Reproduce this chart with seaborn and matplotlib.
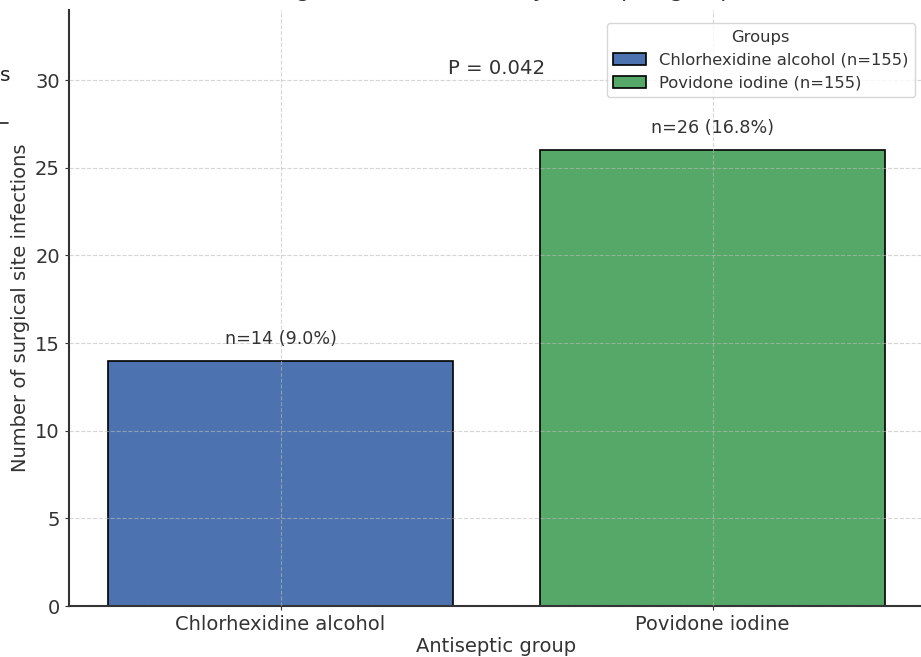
import matplotlib
matplotlib.use("Agg")
import matplotlib.pyplot as plt
from matplotlib.patches import Patch
from matplotlib.lines import Line2D
import seaborn as sns
import pandas as pd

groups = ["Chlorhexidine alcohol", "Povidone iodine"]
infections = [14, 26]
group_n = [155, 155]
percent_labels = ["n=14 (9.0%)", "n=26 (16.8%)"]
legend_labels = ["Chlorhexidine alcohol (n=155)", "Povidone iodine (n=155)"]
p_text = "P = 0.042"
title = "Surgical site infections by antiseptic group"

colors = ["#4C72B0", "#55A868"]

sns.set_theme(style="white")
plt.rcParams["font.family"] = ["DejaVu Sans"]
txt = "#333333"

df = pd.DataFrame({"group": groups, "infections": infections})

fig = plt.figure(figsize=(9.21, 6.57), dpi=100)
ax = fig.add_axes([0.0749, 0.0776, 0.9285, 0.9072])

sns.barplot(data=df, x="group", y="infections", hue="group", palette=colors,
            edgecolor="black", linewidth=1.2, width=0.8, ax=ax, legend=False,
            saturation=1)

ax.set_ylim(0, 34)
ax.set_xlim(-0.49, 1.49)
ax.set_yticks([0, 5, 10, 15, 20, 25, 30])

for i, (h, lab) in enumerate(zip(infections, percent_labels)):
    ax.text(i, h + 1.25, lab, ha="center", va="center", fontsize=12.6, color=txt)

ax.text(0.5, max(infections) * 1.18, p_text, ha="center", va="center",
        fontsize=14.2, color=txt)

ax.set_title(title, fontsize=16, color=txt, pad=9)
ax.set_xlabel("Antiseptic group", fontsize=14, color=txt, labelpad=2)
ax.set_ylabel("Number of surgical site infections", fontsize=14, color=txt)

ax.grid(True, linestyle="--", color="#bbbbbb", alpha=0.6, linewidth=0.8)
ax.set_axisbelow(False)

for s in ["top", "right"]:
    ax.spines[s].set_visible(False)
for s in ["left", "bottom"]:
    ax.spines[s].set_color("#333333")
    ax.spines[s].set_linewidth(1.5)

ax.tick_params(axis="both", labelsize=14, colors=txt, length=3, width=0.8,
               left=True, bottom=True)

handles = [Patch(facecolor=c, edgecolor="black", linewidth=1.2) for c in colors]
leg = ax.legend(handles, legend_labels, title="Groups", loc="upper right",
                fontsize=11.8, title_fontsize=11.8, frameon=True,
                bbox_to_anchor=(0.999, 0.992), labelcolor=txt)
leg.get_title().set_color(txt)
leg.get_frame().set_edgecolor("#cccccc")
leg.set_zorder(10)

fig.text(0.0, 0.885, "s", fontsize=14.5, color="#222222", ha="left", va="center")
fig.add_artist(Line2D([0.0, 0.009], [0.8125, 0.8125], transform=fig.transFigure,
                      color="#222222", linewidth=1.2))

fig.savefig("out.png", dpi=100)
